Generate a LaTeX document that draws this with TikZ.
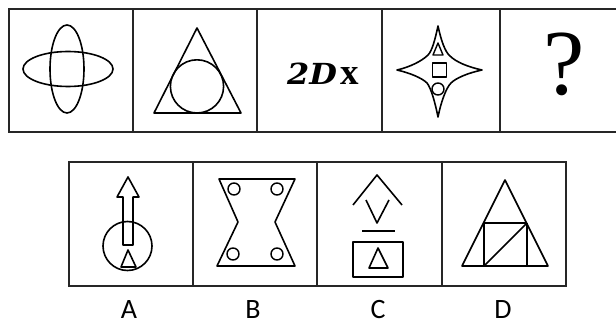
\documentclass[tikz,border=0pt]{standalone}
\usepackage{graphicx}
\usepackage{fontspec}
\newfontfamily\qfont{Liberation Serif}
\newfontfamily\dfont{DejaVu Serif}
\newfontfamily\labfont{Carlito}
\begin{document}
\begin{tikzpicture}[x=1pt,y=-1pt,
  frame/.style={line width=1.3pt,draw=black!85},
  shp/.style={line width=1.6pt,draw=black,line join=round},
  thin shp/.style={line width=1.4pt,draw=black,line join=round},
  lab/.style={font=\labfont\fontsize{28}{28}\selectfont,anchor=base,inner sep=0pt}]
\useasboundingbox (0,0) rectangle (616,323);
% top row frames
\draw[frame] (616,9) -- (9,9) -- (9,132) -- (616,132);
\foreach \x in {133,257,382,500} \draw[frame] (\x,9) -- (\x,132);
% bottom row frames
\draw[frame] (69,162) rectangle (566,286);
\foreach \x in {193,317,442} \draw[frame] (\x,162) -- (\x,286);

% cell 1: two ellipses
\draw[shp] (67,69) ellipse [x radius=17,y radius=44];
\draw[shp] (68,69) ellipse [x radius=45,y radius=17.5];

% cell 2: triangle with inscribed circle
\draw[shp] (197,28) -- (241,113) -- (154,113) -- cycle;
\draw[shp] (197,86.4) circle [radius=26.6];

% cell 3: text
\node[anchor=base west,inner sep=0pt] (t2d) at (287,85)
  {\scalebox{1.1}[1]{\dfont\fontsize{29}{29}\selectfont\bfseries\itshape 2D}};
\node[anchor=base west,inner sep=0pt] (tx) at (t2d.base east) [xshift=3pt]
  {\qfont\fontsize{37}{37}\selectfont\bfseries x};

% cell 4: four-pointed star
\begin{scope}[shift={(438,70)}]
\draw[shp] (0,-44)
  .. controls (3,-30) and (7,-18) .. (12,-14)
  .. controls (18,-8) and (30,-3) .. (44,0)
  .. controls (30,3) and (18,8) .. (13,13)
  .. controls (8,18) and (3,32) .. (0,47)
  .. controls (-3,32) and (-7,18) .. (-11,13)
  .. controls (-16,8) and (-28,3) .. (-41,0)
  .. controls (-28,-3) and (-16,-9) .. (-10,-15)
  .. controls (-6,-19) and (-3,-30) .. cycle;
\draw[thin shp] (0,-27) -- (5,-15) -- (-5,-15) -- cycle;
\draw[thin shp] (-5.5,-7) rectangle (8.5,7);
\draw[thin shp] (0,19) circle [radius=6];
\end{scope}

% cell 5: question mark
\node[anchor=base,inner sep=0pt] (q) at (564,95)
  {\qfont\fontsize{93}{93}\selectfont ?};

% option A
\draw[shp] (128,177) -- (139,197) -- (133,197) -- (133,245) -- (123,245)
  -- (123,197) -- (117,197) -- cycle;
\draw[shp] (127.5,246) circle [radius=24.5];
\draw[shp] (128,250) -- (136,267) -- (121,267) -- cycle;

% option B
\draw[shp] (219,179) -- (295,179) -- (275,222) -- (295,266) -- (217,266)
  -- (238,222) -- cycle;
\foreach \p in {(234,189),(277,189),(233,254),(277,254)}
  \draw[thin shp] \p circle [radius=6];

% option C
\draw[shp] (353,205) -- (377,175) -- (402,205);
\draw[shp] (366,200) -- (377,223) -- (389,200);
\draw[shp] (362,231) -- (395,231);
\draw[shp] (353,242) rectangle (403,277);
\draw[shp] (378,248) -- (388,268) -- (369,268) -- cycle;

% option D
\draw[shp] (505,180) -- (548,266) -- (462,266) -- cycle;
\draw[shp] (484,223) -- (527,223);
\draw[shp] (484,223) -- (484,266);
\draw[shp] (527,223) -- (527,266);
\draw[shp] (484,266) -- (527,223);

% labels
\node[lab] (la) at (129,318) {A};
\node[lab] (lb) at (253,318) {B};
\node[lab] (lc) at (378,318) {C};
\node[lab] (ld) at (503,318) {D};
\end{tikzpicture}
\end{document}
